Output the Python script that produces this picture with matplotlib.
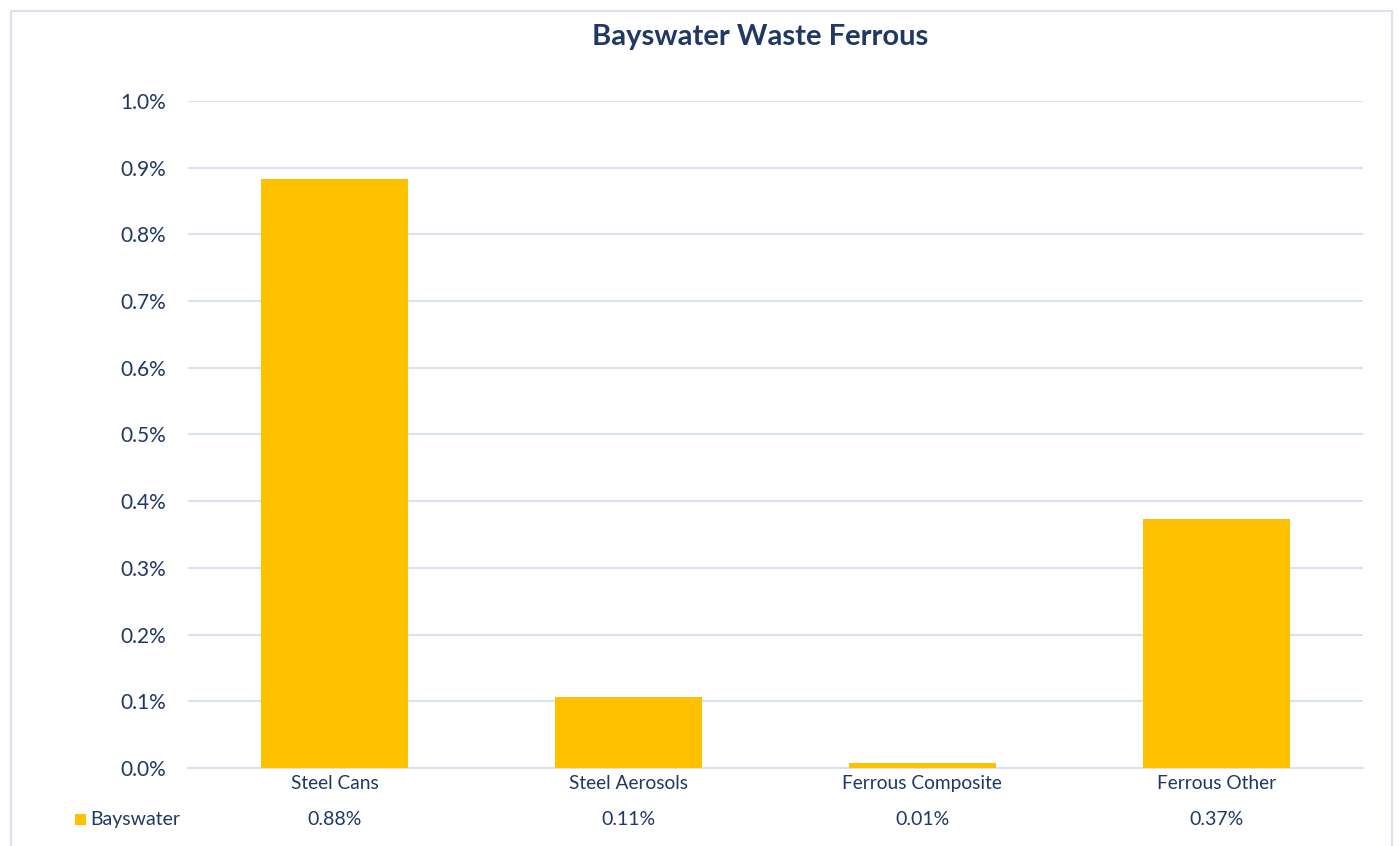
import matplotlib
matplotlib.use("Agg")
import matplotlib.pyplot as plt
from matplotlib.patches import Rectangle
from matplotlib.ticker import FuncFormatter, MultipleLocator

categories = ["Steel Cans", "Steel Aerosols", "Ferrous Composite", "Ferrous Other"]
values = [0.883, 0.107, 0.007, 0.374]
labels = ["0.88%", "0.11%", "0.01%", "0.37%"]
series_name = "Bayswater"
title = "Bayswater Waste Ferrous"

plt.rcParams['font.family'] = ['Lato', 'DejaVu Sans']
W, H = 1399, 846
fig = plt.figure(figsize=(W / 100, H / 100), dpi=100)
fig.patch.set_facecolor("white")

text_col = "#1F3864"
grid_col = "#D9E2F3"
bar_col = "#FFC000"

ax = fig.add_axes([188 / W, 1 - 768 / H, (1363 - 188) / W, (768 - 101) / H])
x = list(range(len(categories)))
ax.bar(x, values, width=0.5, color=bar_col, zorder=3)
ax.set_xlim(-0.5, len(categories) - 0.5)
ax.set_ylim(0, 1.0)
ax.yaxis.set_major_locator(MultipleLocator(0.1))
ax.yaxis.set_major_formatter(FuncFormatter(lambda v, p: f"{v:.1f}%"))
ax.grid(axis="y", color=grid_col, linewidth=1.5, zorder=0)
for s in ["top", "right", "left"]:
    ax.spines[s].set_visible(False)
ax.spines["bottom"].set_color(grid_col)
ax.spines["bottom"].set_linewidth(1.5)
ax.tick_params(axis="y", length=0, pad=16, labelsize=15, labelcolor=text_col)
ax.set_xticks(x)
ax.set_xticklabels(categories)
ax.tick_params(axis="x", length=0, pad=5, labelsize=13.8, labelcolor=text_col)

# data table row
tr = ax.get_xaxis_transform()
for xi, lab in zip(x, labels):
    ax.text(xi, -(819 - 768) / (768 - 101), lab, transform=tr, ha="center", va="center",
            fontsize=14, color=text_col, clip_on=False)
fig.patches.append(Rectangle((75 / W, 1 - 825 / H), 11 / W, 11 / H, transform=fig.transFigure,
                             facecolor=bar_col, edgecolor="none"))
fig.text(90 / W, 1 - 819 / H, series_name, ha="left", va="center", fontsize=14, color=text_col)

fig.text(760 / W, 1 - 37 / H, title, ha="center", va="center", fontsize=21,
         fontweight="bold", color=text_col)

# outer border
fig.patches.append(Rectangle((11 / W, -0.05), (1392 - 11) / W, 1.05 - 11 / H, transform=fig.transFigure,
                             facecolor="none", edgecolor=grid_col, linewidth=1.5))

fig.savefig("out.png", dpi=100)
